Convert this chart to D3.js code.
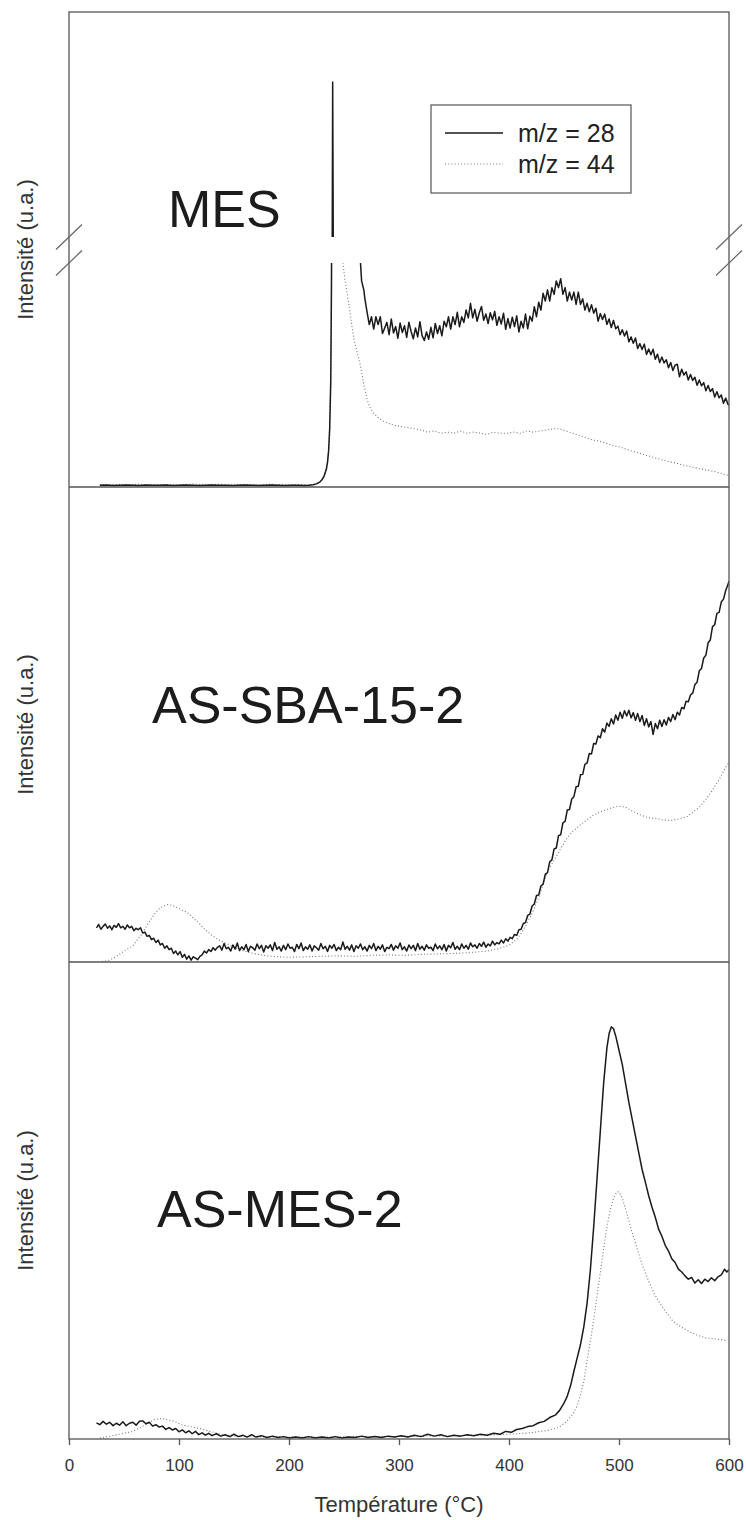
<!DOCTYPE html>
<html><head><meta charset="utf-8">
<script src="https://cdn.jsdelivr.net/npm/d3@7"></script>
<style>
html,body{margin:0;padding:0;background:#fff;}
svg{display:block;font-family:"Liberation Sans",Arial,Helvetica,sans-serif;}
</style></head>
<body><svg id="chart" width="746" height="1520"></svg>
<script>
// ---------- DATA ----------
const xTicks = [0,100,200,300,400,500,600];
const panelNames = ["MES","AS-SBA-15-2","AS-MES-2"];
const legendLabels = ["m/z = 28","m/z = 44"];
const yTitle = "Intensité (u.a.)";
const xTitle = "Température (°C)";

// MES : m/z = 28 (broken axis: values 0-100 lower part, 300-1000 upper part)
const mes28 = [[28,0.8],[34,0.9],[40,0.7],[46,0.8],[52,0.9],[58,0.8],[64,0.7],[70,0.9],[76,0.8],[82,0.8],[88,0.9],[94,0.7],[100,0.8],[106,0.9],[112,0.8],[118,0.7],[124,0.8],[130,0.9],[136,0.8],[142,0.8],[148,0.7],[154,0.8],[160,0.9],[166,0.8],[172,0.7],[178,0.8],[184,0.9],[190,0.8],[196,0.7],[202,0.8],[208,0.8],[214,0.7],[218,0.8],[222,1.0],[225,1.4],[228,2.2],[230,3.2],[232,5],[234,8],[235,11],[236,16],[237,26],[238,48],[238.6,90],[239.2,160],[239.7,782],[240.3,240],[242,215],[245,200],[250,185],[255,170],[260,150],[263,125],[265,100],[266,92],[267,90],[268,88],[269,84],[270,81],
[271,78],[273,72.5],[275,76],[277,70.5],[279,76],[281,72.5],[283,76],[285,68.5],[287,71],[289,73.5],[291,68],[293,75],[295,68.8],[297,71.6],[299,66.4],[301,73.2],[303,69],[305,72],[307,66.8],[309,73.6],[311,69.4],[313,66.2],[315,71],[317,67],[319,73.8],[321,67.6],[323,65.4],[325,69.2],[327,66],[329,71.3],[331,66.6],[333,73],[335,68.5],[337,72],[339,67.5],[341,74],[343,71.5],[345,76],[347,70.5],[349,76],[351,72.5],[353,78],[355,71.5],[357,76],[359,73.5],[361,79],[363,75.5],[365,82],[367,75.5],[369,79.3],[371,74],[373,77.8],[375,80.6],[377,74.4],[379,77.2],[381,73],[383,77.8],[385,74.6],[387,78.4],[389,72.2],[391,76],[393,72.8],[395,77.6],[397,70.4],[399,75.2],[401,71],[403,75.8],[405,71.6],[407,76.4],[409,69.2],[411,74],[413,71],[415,77.2],[417,70.6],[419,76.2],[421,74],[423,80.5],[425,76],[427,82.5],[429,79],[431,86.5],[433,83],[435,88],[437,83],[439,89],[441,86],[443,92],[445,89],[447,93],[449,86],[451,89],[453,83],[455,87],[457,83.5],[459,87],[461,81.5],[463,87],[465,81.5],[467,84],[469,79],[471,82],[473,78.2],[475,81.4],[477,77.6],[479,79.8],[481,74],[483,77.4],[485,74.8],[487,77.2],[489,72.6],[491,75],[493,71.2],[495,74.4],[497,70.6],[499,71.8],[501,68],[503,70.2],[505,67.4],[507,69.6],[509,64.8],[511,67],[513,64.2],[515,66.5],[517,61.8],[519,64],[521,61.4],[523,63.8],[525,59.2],[527,61.6],[529,59],[531,61.5],[533,57],[535,59.3],[537,55.6],[539,58],[541,55.4],[543,56.8],[545,53.2],[547,55.6],[549,52],[551,54.4],[553,54.8],[555,49.2],[557,52.6],[559,50],[561,51.4],[563,47.8],[565,50.2],[567,47.6],[569,49],[571,45.4],[573,47.8],[575,45.2],[577,46.6],[579,43],[581,45.3],[583,42.6],[585,43.9],[587,40.2],[589,42.5],[591,39.8],[593,41.1],[595,37.4],[597,39.7],[599,37],[600,36.5]];

// MES : m/z = 44
const mes44 = [[28,0.9],[40,1.1],[52,1.0],[64,1.2],[76,0.9],[88,1.1],[100,1.0],[112,1.3],[124,1.0],[136,1.2],[148,1.0],[160,1.1],[172,0.9],[184,1.2],[196,1.0],[208,1.1],[218,1.0],[224,1.3],[228,2.2],[231,4],[233,6],[235,11],[236.5,20],[237.5,40],[238.5,80],[239.5,150],[241,210],[244,190],[247,125],[249,100],[251,92],[254,83],[256,76],[258,69],[260,64],[262,60],[265,54],[268,46],[271,39],[274,35],[277,33],[281,31],[285,29.5],[290,28.5],[296,27.5],[302,27],[308,26.5],[314,26],[320,25.5],[326,24.5],[332,25],[338,24],[344,24.5],[350,24],[356,25],[362,24],[368,24.5],[374,24],[380,23.5],[386,24.5],[392,24],[398,24],[404,24.5],[410,24],[416,25],[422,24.5],[428,25],[434,25.5],[440,26],[446,26],[452,25],[458,24],[464,23],[470,22],[476,21],[482,20.5],[488,19.6],[494,18.5],[500,18],[506,17],[512,16],[519,15],[526,14],[533,13],[540,12],[549,11],[557,10],[565,9],[572,8.3],[579,7.6],[586,7],[592,6.2],[597,5.4],[600,5.2]];

// AS-SBA-15-2 : m/z = 28
const sba28 = [[25,7.2],[27,7.9],[29,6.9],[31,7.5],[33,8.0],[35,7.1],[37,7.6],[39,6.8],[41,7.7],[43,7.3],[45,8.1],[47,7.2],[49,7.5],[51,6.9],[53,7.8],[55,7.2],[57,7.5],[59,6.6],[61,7.1],[63,6.8],[65,7.2],[67,6.1],[69,6.3],[71,5.4],[73,5.6],[75,4.7],[77,5.0],[79,4.1],[81,4.6],[83,3.6],[85,3.9],[87,2.9],[89,3.4],[91,2.6],[93,2.9],[95,1.8],[97,2.3],[99,1.5],[101,2.2],[103,1.0],[105,1.6],[107,0.6],[109,1.3],[111,0.4],[113,1.1],[115,0.8],[117,0.5],[119,1.2],[121,1.5],[123,2.3],[125,1.9],[127,2.6],[129,2.2],[131,3.0],[133,2.5],[135,3.1],
[137,3.4],[139,2.5],[141,3.9],[143,2.8],[145,3.1],[147,2.3],[149,3.6],[151,2.7],[153,4.0],[155,2.4],[157,3.2],[159,2.6],[161,3.7],[163,2.2],[165,3.3],[167,3.0],[169,2.5],[171,3.8],[173,2.8],[175,3.5],[177,2.1],[179,3.4],[181,2.9],[183,3.6],[185,2.4],[187,4.1],[189,2.7],[191,3.2],[193,2.3],[195,3.5],[197,2.6],[199,3.8],[201,2.9],[203,3.1],[205,2.2],[207,3.7],[209,2.8],[211,4.0],[213,2.4],[215,3.2],[217,2.7],[219,3.6],[221,2.3],[223,3.4],[225,3.0],[227,2.5],[229,3.9],[231,2.8],[233,3.3],[235,2.2],[237,3.5],[239,2.9],[241,3.7],[243,2.4],[245,3.1],[247,2.6],[249,4.2],[251,2.7],[253,3.3],[255,2.5],[257,3.6],[259,2.2],[261,3.4],[263,2.9],[265,3.8],[267,2.6],[269,3.2],[271,2.3],[273,3.5],[275,2.8],[277,3.9],[279,2.4],[281,3.3],[283,2.7],[285,3.6],[287,2.2],[289,3.1],[291,2.8],[293,3.7],[295,2.5],[297,3.4],[299,2.9],[301,4.0],[303,2.6],[305,3.2],[307,2.3],[309,3.6],[311,2.8],[313,3.5],[315,2.4],[317,3.9],[319,2.7],[321,3.3],[323,2.5],[325,3.6],[327,2.9],[329,3.1],[331,2.4],[333,3.8],[335,2.8],[337,3.4],[339,2.6],[341,3.7],[343,2.3],[345,3.5],[347,3.0],[349,4.1],[351,2.7],[353,3.3],[355,2.6],[357,3.8],[359,2.9],[361,3.5],[363,2.7],[365,4.0],[367,3.2],[369,3.6],[371,2.9],[373,3.9],[375,3.3],[377,4.2],[379,3.1],[381,3.8],[383,3.4],[385,4.4],[387,3.6],[389,4.1],[391,3.8],[393,4.6],[395,4.0],[397,4.9],[399,4.4],
[401,5.2],[403,4.9],[405,5.8],[407,5.6],[409,6.8],[411,6.9],[413,8.1],[415,8.3],[417,9.8],[419,10.1],[421,11.8],[423,12.2],[425,14.0],[427,14.1],[429,16.0],[431,16.4],[433,18.5],[435,18.8],[437,21.1],[439,21.5],[441,23.8],[443,24.0],[445,26.6],[447,26.8],[449,29.3],[451,29.6],[453,32.0],[455,32.1],[457,34.3],[459,34.8],[461,36.9],[463,37.0],[465,39.4],[467,39.5],[469,41.6],[471,41.9],[473,43.9],[475,43.8],[477,46.0],[479,45.9],[481,47.6],[483,47.2],[485,49.1],[487,48.4],[489,50.3],[491,49.6],[493,51.2],[495,50.1],[497,52.0],[499,50.9],[501,52.6],[503,51.3],[505,52.9],[507,51.8],[509,53.0],[511,51.4],[513,52.5],[515,50.9],[517,52.3],[519,50.6],[521,51.9],[523,49.8],[525,51.2],[527,49.5],[529,50.6],[531,47.9],[533,50.2],[535,49.1],[537,50.9],[539,49.6],[541,51.0],[543,49.9],[545,51.5],[547,50.6],[549,52.1],[551,51.0],[553,52.6],[555,52.0],[557,53.6],[559,53.3],[561,54.9],[563,54.8],[565,56.2],[567,56.6],[569,58.4],[571,58.9],[573,61.3],[575,61.8],[577,64.0],[579,64.6],[581,67.2],[583,67.8],[585,70.6],[587,71.0],[589,73.4],[591,73.6],[593,75.8],[595,76.4],[597,78.2],[599,79.4],[600,80.2]];

// AS-SBA-15-2 : m/z = 44
const sba44 = [[30,0.1],[37,0.4],[42,1.0],[47,1.8],[52,2.6],[58,3.4],[62,4.6],[66,5.8],[70,7.4],[74,8.8],[78,10.2],[82,11.2],[86,11.8],[90,12.1],[94,11.9],[98,11.5],[102,11.0],[106,10.6],[110,10.0],[114,9.0],[118,8.2],[122,7.2],[126,6.4],[130,5.6],[135,4.8],[140,4.2],[145,3.7],[150,3.1],[157,2.5],[164,2.0],[172,1.6],[180,1.3],[190,1.1],[200,1.0],[215,1.1],[230,1.2],[245,1.3],[260,1.2],[275,1.4],[290,1.5],[305,1.4],[320,1.6],[335,1.7],[350,1.8],[365,2.0],[380,2.3],[390,2.8],[400,3.5],[408,5.0],[415,7.5],[421,10.2],[427,13.6],[432,17.0],[436,19.5],[440,21.0],[446,23.5],[452,25.8],[458,27.5],[464,28.7],[470,29.8],[476,30.8],[482,31.5],[488,32.0],[494,32.5],[500,32.8],[506,32.6],[512,31.8],[519,31.0],[526,30.4],[533,30.2],[540,29.9],[547,29.8],[554,30.1],[561,30.5],[567,31.5],[573,32.6],[579,34.2],[585,36.2],[591,38.4],[597,41.0],[600,42.0]];

// AS-MES-2 : m/z = 28
const asmes28 = [[25,3.4],[28,3.0],[31,3.7],[34,3.1],[37,3.5],[40,2.8],[43,3.3],[46,2.9],[49,3.6],[52,2.8],[55,3.3],[58,3.5],[61,2.9],[64,3.7],[67,3.8],[70,3.2],[73,3.5],[76,2.7],[79,3.0],[82,2.5],[85,2.7],[88,2.0],[91,2.4],[94,1.9],[97,2.2],[100,1.5],[103,1.9],[106,1.3],[109,1.7],[112,1.1],[115,1.6],[118,0.9],[121,1.3],[124,0.8],[127,1.2],[130,0.7],[134,1.1],[138,0.6],[142,0.9],[146,0.5],[150,1.0],[154,0.5],[158,0.8],[162,0.4],[166,0.9],[170,0.4],[175,0.7],[180,0.3],[185,0.6],[190,0.3],[195,0.5],[200,0.2],[206,0.4],[212,0.2],[218,0.5],[224,0.2],[230,0.4],[236,0.2],[242,0.5],[248,0.2],[254,0.4],[260,0.3],[266,0.6],[272,0.3],[278,0.5],[284,0.3],[290,0.6],[296,0.4],[302,0.7],[308,0.4],[314,0.8],[320,0.5],[326,1.0],[332,0.6],[338,0.9],[344,0.5],[350,0.8],[356,0.6],[362,0.9],[368,0.7],[374,1.0],[380,0.8],[386,1.2],[392,1.0],[397,1.6],[402,1.4],[407,2.0],[412,2.2],[417,2.6],[422,2.8],[427,3.4],[432,3.7],[437,4.5],[442,5.0],[446,6.0],[450,7.5],[453,9.0],[456,11.2],[459,14.2],[462,17.0],[465,19.8],[468,23.5],[471,28.5],[474,35.5],[477,44.5],[480,54.5],[483,64.5],[486,74.5],[489,82.0],[491,85.0],[493,86.4],[495,86.0],[497,84.5],[500,81.5],[503,78.5],[506,74.5],[509,70.5],[512,67.0],[515,63.5],[518,60.0],[521,56.5],[524,53.8],[527,51.0],[530,48.6],[533,46.5],[536,44.0],[539,42.5],[542,40.6],[545,39.4],[548,37.8],[551,37.0],[554,35.6],[557,35.0],[560,34.2],[563,33.5],[566,33.9],[569,32.7],[572,33.4],[575,32.6],[578,33.5],[581,33.0],[584,33.8],[587,33.2],[590,34.0],[593,34.4],[596,35.6],[598,35.0],[600,35.5]];

// AS-MES-2 : m/z = 44
const asmes44 = [[28,0.2],[35,0.5],[42,0.8],[50,1.2],[58,1.6],[65,2.4],[72,3.3],[78,4.1],[84,4.3],[90,4.0],[96,3.7],[102,3.0],[110,2.6],[119,2.2],[128,1.6],[138,1.0],[149,0.6],[160,0.5],[180,0.4],[200,0.4],[230,0.4],[260,0.5],[290,0.5],[320,0.6],[350,0.7],[380,0.8],[400,1.0],[420,1.3],[435,1.8],[445,2.4],[452,3.6],[458,5.2],[462,7.0],[465,9.2],[468,12.0],[471,16.5],[474,20.5],[477,25.0],[480,30.0],[483,34.8],[486,39.8],[489,44.5],[492,48.0],[495,50.5],[498,51.8],[500,51.8],[503,50.5],[506,48.2],[509,45.8],[512,43.2],[515,41.0],[518,38.8],[521,36.6],[524,34.8],[528,32.5],[532,30.5],[537,28.5],[543,26.5],[549,24.7],[557,23.4],[565,22.4],[572,21.7],[579,21.2],[586,21.0],[594,20.8],[598,20.6]];

// ---------- LAYOUT ----------
const svg = d3.select("#chart");
const L = 69, R = 729;
const bounds = [12, 487, 962, 1439];
const x = d3.scaleLinear().domain([0,600]).range([L,R]);
const FRAME = "#555", SOLID = "#1a1a1a", DOT = "#777";

// MES panel: broken axis
const yLow = d3.scaleLinear().domain([0,100]).range([bounds[1], 263]);
const yHigh = d3.scaleLinear().domain([300,1000]).range([237, bounds[0]]);
const y2 = d3.scaleLinear().domain([0,100]).range([bounds[2], bounds[1]]);
const y3 = d3.scaleLinear().domain([0,100]).range([bounds[3], bounds[2]]);

const defs = svg.append("defs");
function clip(id, y0, y1){
  defs.append("clipPath").attr("id",id).append("rect")
    .attr("x",L).attr("y",y0).attr("width",R-L).attr("height",y1-y0);
}
clip("cLow", yLow.range()[1], yLow.range()[0]);
clip("cHigh", yHigh.range()[1], yHigh.range()[0]);
clip("c2", bounds[1], bounds[2]);
clip("c3", bounds[2], bounds[3]);

function draw(data, yScale, clipId, solid){
  const line = d3.line().x(d=>x(d[0])).y(d=>yScale(d[1]));
  svg.append("path").datum(data)
    .attr("clip-path",`url(#${clipId})`)
    .attr("fill","none")
    .attr("stroke", solid ? SOLID : DOT)
    .attr("stroke-width", solid ? 1.5 : 1.1)
    .attr("stroke-dasharray", solid ? null : "1,2.2")
    .attr("stroke-linejoin","round")
    .attr("d", line);
}
// dotted first, solid on top
draw(mes44, yLow, "cLow", false);
draw(mes44, yHigh, "cHigh", false);
draw(mes28, yLow, "cLow", true);
draw(mes28, yHigh, "cHigh", true);
draw(sba44, y2, "c2", false);
draw(sba28, y2, "c2", true);
draw(asmes44, y3, "c3", false);
draw(asmes28, y3, "c3", true);

// Frame
svg.append("rect").attr("x",L).attr("y",bounds[0]).attr("width",R-L).attr("height",bounds[3]-bounds[0])
  .attr("fill","none").attr("stroke",FRAME).attr("stroke-width",1.3);
[bounds[1], bounds[2]].forEach(b=>{
  svg.append("line").attr("x1",L).attr("x2",R).attr("y1",b).attr("y2",b)
    .attr("stroke",FRAME).attr("stroke-width",1.3);
});

// Break marks on both sides
const bTop = yHigh.range()[0], bBot = yLow.range()[1];
[L, R].forEach(ax=>{
  [bTop, bBot].forEach(by=>{
    svg.append("line").attr("x1",ax-13).attr("y1",by+12.5).attr("x2",ax+13).attr("y2",by-12.5)
      .attr("stroke","#666").attr("stroke-width",1.2);
  });
});

// X axis
const xAxis = d3.axisBottom(x).tickValues(xTicks).tickSize(6).tickPadding(14).tickFormat(d3.format("d"));
const gx = svg.append("g").attr("transform",`translate(0,${bounds[3]})`).call(xAxis);
gx.select(".domain").remove();
gx.selectAll(".tick line").attr("stroke",FRAME).attr("stroke-width",1.3);
gx.selectAll(".tick text").attr("font-size",17).attr("fill","#333")
  .attr("font-family",'"Liberation Sans",Arial,sans-serif');

svg.append("text").attr("x",(L+R)/2).attr("y",1512).attr("text-anchor","middle")
  .attr("font-size",22).attr("fill","#333").text(xTitle);

// Y titles
for(let i=0;i<3;i++){
  const cy = (bounds[i]+bounds[i+1])/2;
  svg.append("text").attr("transform",`translate(33,${cy}) rotate(-90)`)
    .attr("text-anchor","middle").attr("font-size",22).attr("fill","#333").text(yTitle);
}

// Panel labels
const labelPos = [[168,227],[152,723],[157,1227]];
panelNames.forEach((n,i)=>{
  svg.append("text").attr("x",labelPos[i][0]).attr("y",labelPos[i][1])
    .attr("font-size",52).attr("fill","#1c1c1c").text(n);
});

// Legend
const lg = svg.append("g");
lg.append("rect").attr("x",431).attr("y",105).attr("width",200).attr("height",88)
  .attr("fill","#fff").attr("stroke",FRAME).attr("stroke-width",1.2);
legendLabels.forEach((t,i)=>{
  const yy = 133 + i*31;
  lg.append("line").attr("x1",445).attr("x2",503).attr("y1",yy).attr("y2",yy)
    .attr("stroke", i===0?SOLID:DOT).attr("stroke-width", i===0?1.3:1.1)
    .attr("stroke-dasharray", i===0?null:"1,2.2");
  lg.append("text").attr("x",518).attr("y",yy+9).attr("font-size",25).attr("fill","#222").text(t);
});
</script></body></html>
